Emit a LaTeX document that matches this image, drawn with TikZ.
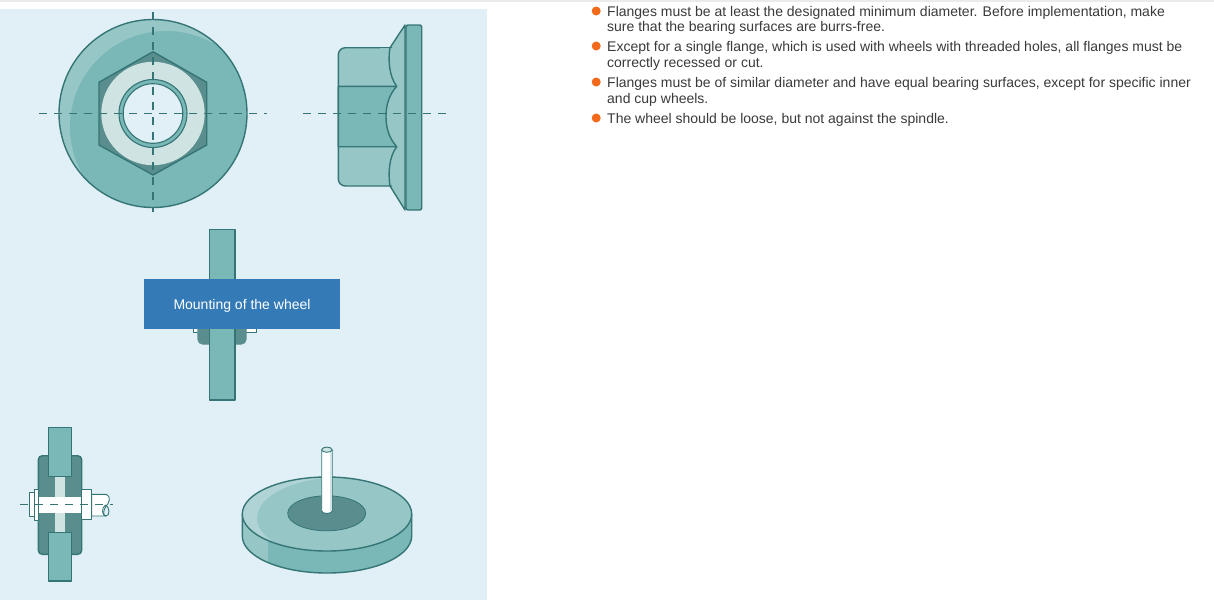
\documentclass[tikz,border=0pt]{standalone}
\usepackage{fontspec}
\setmainfont{Liberation Sans}
\definecolor{panel}{HTML}{E1F0F6}
\definecolor{teal}{HTML}{79B8B6}
\definecolor{lteal}{HTML}{97C6C7}
\definecolor{xlteal}{HTML}{B0D4D5}
\definecolor{dteal}{HTML}{5A8E8E}
\definecolor{edge}{HTML}{357575}
\definecolor{pale}{HTML}{CFE3E3}
\definecolor{banner}{HTML}{337AB7}
\definecolor{bullet}{HTML}{F26A1B}
\definecolor{txt}{HTML}{3A3A3A}
\tikzset{
  part/.style={draw=edge,line width=1.4pt,line join=round},
  thinpart/.style={draw=edge,line width=.9pt,line join=round},
  axis/.style={draw=edge,line width=1.6pt,dash pattern=on 8pt off 7pt},
  listline/.style={anchor=base west,inner sep=0pt,font=\fontsize{14}{14}\selectfont,text=txt},
  dot/.style={circle,fill=bullet,inner sep=0pt,minimum size=9pt},
}
\begin{document}
\begin{tikzpicture}[x=1pt,y=-1pt]
\useasboundingbox (0,0) rectangle (1214,600);
\fill[white] (0,0) rectangle (1214,600);
\fill[black!8] (0,0) rectangle (1214,1.5);
\fill[panel] (0,9) rectangle (487,600);
% --- flange nut, front view
\begin{scope}
  \clip (153,113.5) circle[radius=94];
  \fill[lteal] (153,113.5) circle[radius=94];
  \fill[teal] (166,127) circle[radius=96];
\end{scope}
\draw[part] (153,113.5) circle[radius=94];
\draw[part,fill=dteal] (153,51.7) -- (206.7,82.3) -- (206.7,145) -- (153,175) -- (99,145) -- (99,82.3) -- cycle;
\fill[pale] (153,113.5) circle[radius=51.7];
\draw[thinpart,line width=1.1pt,fill=teal] (153,113.5) circle[radius=34];
\draw[thinpart,line width=1.1pt,fill=panel] (153,113.5) circle[radius=29.8];
\draw[axis] (153,12) -- (153,212);
\draw[axis] (39,113.5) -- (267,113.5);
% --- flange nut, side view
\draw[part,fill=lteal] (390,47.7) -- (405,25) -- (405,210) -- (390,186) -- cycle;
\draw[part,fill=lteal,rounded corners=7pt] (392,47.7) -- (338.3,47.7) -- (338.3,186) -- (392,186);
\fill[lteal] (380,48.4) rectangle (400,185.3);
\draw[part,fill=teal] (338.3,86.3) -- (396.7,86.3) .. controls (389,95) and (386,105) .. (386,116.5) .. controls (386,128) and (389,138) .. (396.7,146.7) -- (338.3,146.7) -- cycle;
\draw[part] (390,47.7) .. controls (388,60) and (389,76) .. (396.7,86.3);
\draw[part] (396.7,146.7) .. controls (389,157) and (388,173) .. (390,186);
\draw[part,fill=teal,rounded corners=2pt] (406,25) rectangle (421.7,210);
\draw[axis] (303,113.3) -- (446,113.3);
% --- mounting view, mostly hidden by the banner
\draw[thinpart,fill=white] (193,320) rectangle (256.7,332);
\draw[part,draw=dteal,fill=dteal,rounded corners=5pt] (198,310) rectangle (246,344);
\draw[part,fill=teal] (209.3,229.5) rectangle (235,400);
\node[fill=banner,text=white,minimum width=196pt,minimum height=50pt,inner sep=0pt,text height=12pt,text depth=1pt,font=\fontsize{14}{14}\selectfont] (caption) at (242,304) {Mounting of the wheel};
% --- section view
\draw[part,fill=dteal,rounded corners=4pt] (38.3,455.7) rectangle (81.7,554.3);
\fill[pale] (55.3,470) rectangle (65,540);
\draw[part,fill=teal] (48.3,427.7) rectangle (71.7,476.7);
\draw[part,fill=teal] (48.3,532.3) rectangle (71.7,581);
\draw[thinpart,fill=white] (91.7,494.3) -- (106,494.3) .. controls (112,497) and (109,503) .. (105.5,507) .. controls (103,511) and (103,516) .. (106,516) -- (91.7,516) -- cycle;
\draw[thinpart] (105.5,505) .. controls (110,507) and (110,516) .. (106,516) .. controls (102,516) and (101,508) .. (105.5,505);
\fill[white] (38.3,497) rectangle (81.7,512.7);
\draw[thinpart,fill=white] (29.3,492.7) rectangle (34,516.7);
\draw[thinpart,fill=white] (34,489.3) rectangle (38.3,520);
\draw[thinpart,fill=white] (81.7,489.3) rectangle (91.7,519.3);
\draw[axis,line width=1.2pt] (20,504.3) -- (113,504.3);
% --- wheel in perspective
\fill[teal] (242.3,514) -- (242.3,536) arc[start angle=180,end angle=0,x radius=84.7,y radius=37] -- (411.7,514) -- cycle;
\begin{scope}
  \clip (242.3,514) -- (242.3,536) arc[start angle=180,end angle=0,x radius=84.7,y radius=37] -- (411.7,514) -- cycle;
  \fill[lteal] (240,514) rectangle (268.3,575);
\end{scope}
\draw[part] (242.3,514) -- (242.3,536) arc[start angle=180,end angle=0,x radius=84.7,y radius=37] -- (411.7,514);
\begin{scope}
  \clip (327,514) ellipse[x radius=84.7,y radius=37];
  \fill[xlteal] (327,514) ellipse[x radius=84.7,y radius=37];
  \fill[lteal] (344,518) ellipse[x radius=87,y radius=41];
\end{scope}
\draw[part] (327,514) ellipse[x radius=84.7,y radius=37];
\fill[dteal] (326.7,513.3) ellipse[x radius=39,y radius=17.5];
\draw[edge,line width=.8pt] (326.7,513.3) ellipse[x radius=39,y radius=17.5];
\draw[thinpart,fill=white] (321.7,449.7) -- (321.7,511) arc[start angle=180,end angle=0,x radius=5.2,y radius=2.5] -- (332.1,449.7) -- cycle;
\fill[pale] (329.5,450) rectangle (331.5,510.5);
\draw[thinpart,fill=pale] (326.9,449.7) ellipse[x radius=5.2,y radius=2.6];
% --- bullet list
\node[dot] (b1) at (596.2,11) {};
\node[dot] (b2) at (596.2,46) {};
\node[dot] (b3) at (596.2,82) {};
\node[dot] (b4) at (596.2,118) {};
\node[listline] (l1) at (607,16) {Flanges must be at least the designated minimum diameter. Before implementation, make};
\node[listline] (l2) at (607,31) {sure that the bearing surfaces are burrs-free.};
\node[listline] (l3) at (607,51) {Except for a single flange, which is used with wheels with threaded holes, all flanges must be};
\node[listline] (l4) at (607,67) {correctly recessed or cut.};
\node[listline] (l5) at (607,87) {Flanges must be of similar diameter and have equal bearing surfaces, except for specific inner};
\node[listline] (l6) at (607,103) {and cup wheels.};
\node[listline] (l7) at (607,123) {The wheel should be loose, but not against the spindle.};
\end{tikzpicture}
\end{document}
